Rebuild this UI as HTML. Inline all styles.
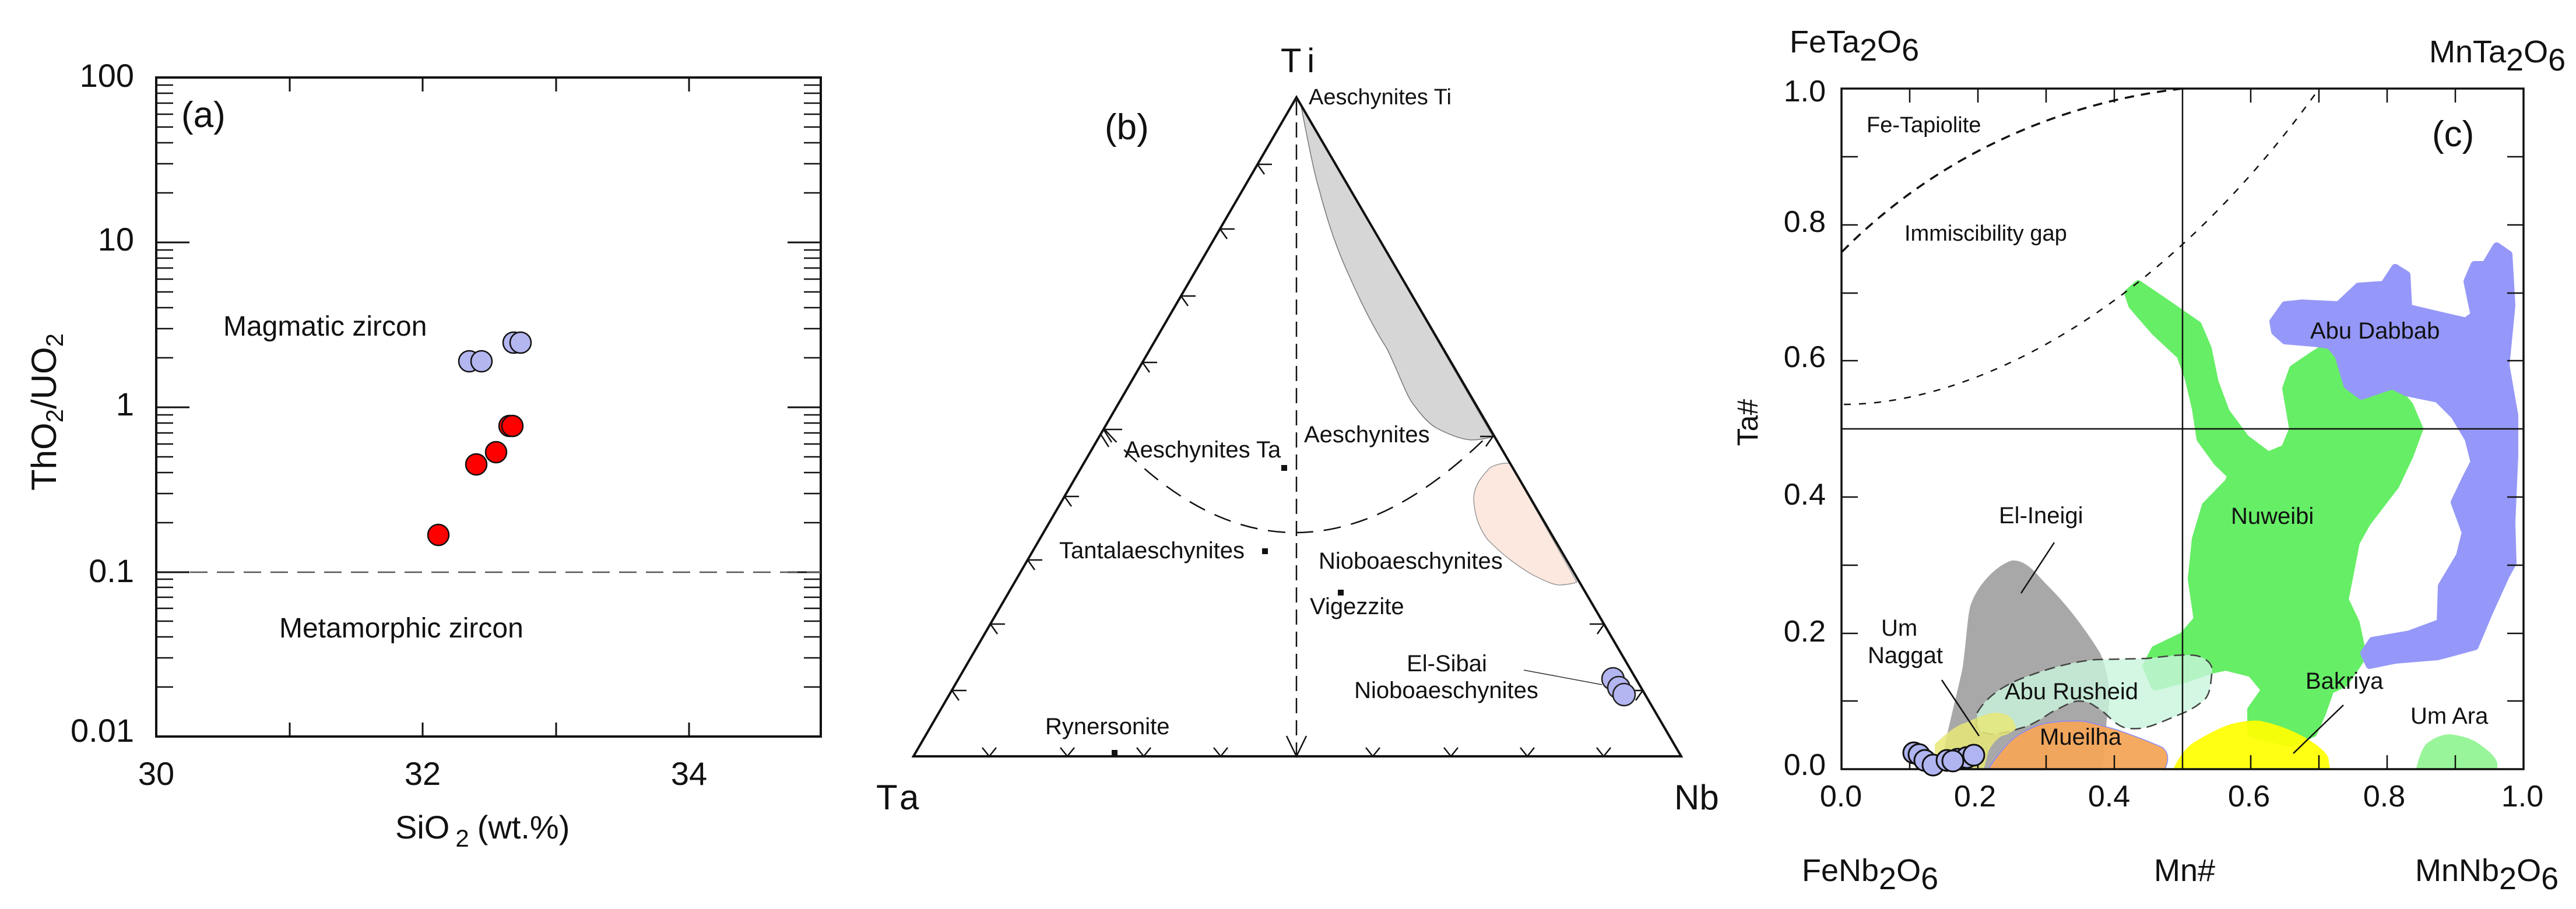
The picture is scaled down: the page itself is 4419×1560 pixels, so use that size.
<!DOCTYPE html>
<html><head><meta charset="utf-8"><style>
html,body{margin:0;padding:0;background:#fff;}
svg{display:block;}
text{font-family:"Liberation Sans",Arial,sans-serif;fill:#111;}
</style></head><body>
<svg width="4419" height="1560" viewBox="0 0 4419 1560" xmlns="http://www.w3.org/2000/svg">
<rect width="4419" height="1560" fill="#fff"/>

<!-- ===== Panel (a) ===== -->
<g stroke="#111" stroke-width="3" fill="none">
<rect x="268" y="133" width="1140" height="1131" stroke-width="4"/>
<path d="M268 416h57M268 699h57M268 982h57M1408 416h-57M1408 699h-57M1408 982h-57"/>
<path d="M497 133v24M725 133v24M954 133v24M1182 133v24M497 1264v-24M725 1264v-24M954 1264v-24M1182 1264v-24"/>
</g>
<g stroke="#111" stroke-width="2.5">
<path d="
M268 331h29M268 281h29M268 245h29M268 218h29M268 196h29M268 177h29M268 160h29M268 146h29
M268 614h29M268 564h29M268 528h29M268 501h29M268 479h29M268 460h29M268 443h29M268 429h29
M268 897h29M268 847h29M268 811h29M268 784h29M268 762h29M268 743h29M268 726h29M268 712h29
M268 1179h29M268 1129h29M268 1093h29M268 1066h29M268 1044h29M268 1025h29M268 1008h29M268 994h29
M1408 331h-29M1408 281h-29M1408 245h-29M1408 218h-29M1408 196h-29M1408 177h-29M1408 160h-29M1408 146h-29
M1408 614h-29M1408 564h-29M1408 528h-29M1408 501h-29M1408 479h-29M1408 460h-29M1408 443h-29M1408 429h-29
M1408 897h-29M1408 847h-29M1408 811h-29M1408 784h-29M1408 762h-29M1408 743h-29M1408 726h-29M1408 712h-29
M1408 1179h-29M1408 1129h-29M1408 1093h-29M1408 1066h-29M1408 1044h-29M1408 1025h-29M1408 1008h-29M1408 994h-29"/>
</g>
<line x1="326" y1="982" x2="1408" y2="982" stroke="#555" stroke-width="2.5" stroke-dasharray="30 16"/>
<g stroke="#111" stroke-width="2.5">
<circle cx="805" cy="620" r="18" fill="#b4b6f0"/>
<circle cx="826" cy="620" r="18" fill="#b4b6f0"/>
<circle cx="881" cy="588" r="18" fill="#b4b6f0"/>
<circle cx="893" cy="588" r="18" fill="#b4b6f0"/>
<circle cx="752" cy="918" r="18" fill="#f00"/>
<circle cx="817" cy="797" r="18" fill="#f00"/>
<circle cx="851" cy="776" r="18" fill="#f00"/>
<circle cx="874" cy="731" r="18" fill="#f00"/>
<circle cx="879" cy="731" r="18" fill="#f00"/>
</g>
<g font-size="56" text-anchor="end">
<text x="230" y="149">100</text>
<text x="230" y="430">10</text>
<text x="230" y="713">1</text>
<text x="230" y="999">0.1</text>
<text x="230" y="1273">0.01</text>
</g>
<g font-size="56" text-anchor="middle">
<text x="268" y="1347">30</text>
<text x="725" y="1347">32</text>
<text x="1182" y="1347">34</text>
</g>
<text x="311" y="218" font-size="62">(a)</text>
<text x="383" y="576" font-size="48">Magmatic zircon</text>
<text x="479" y="1094" font-size="48">Metamorphic zircon</text>
<text transform="translate(96,707) rotate(-90)" font-size="60" text-anchor="middle">ThO<tspan font-size="42" dy="12">2</tspan><tspan dy="-12">/UO</tspan><tspan font-size="42" dy="12">2</tspan></text>
<text x="678" y="1439" font-size="56">SiO<tspan font-size="42" dy="14" dx="10">2</tspan><tspan dy="-14" dx="14">(wt.%)</tspan></text>

<!-- ===== Panel (b) ===== -->
<path d="M2231 177 C2245 250 2255 300 2264 329 C2280 390 2295 430 2312 468 C2335 520 2355 560 2379 598 C2400 640 2412 680 2427 697 C2440 715 2452 728 2465 735 C2490 748 2510 754 2523 755 C2540 755 2552 752 2561 749 L2224 167 Z" fill="#d6d6d6" stroke="#777" stroke-width="1.5"/>
<path d="M2590 795 L2580 795 C2565 797 2555 802 2552 807 C2535 825 2528 840 2528 857 C2530 890 2540 910 2552 926 C2580 955 2605 972 2628 986 C2650 997 2665 1004 2676 1004 C2690 1003 2700 1001 2705 999 Z" fill="#fde8e0" stroke="#999" stroke-width="1.5"/>
<g stroke="#111" fill="none">
<path d="M2224 167 L1567 1298 L2884 1298 Z" stroke-width="4"/>
<line x1="2224" y1="172" x2="2224" y2="1296" stroke-width="2.5" stroke-dasharray="26 12"/>
<path d="M2207 1263 L2224 1298 L2241 1263" stroke-width="2.5"/>
<path d="M1895 737 Q2209 1085 2551 749" stroke-width="2.5" stroke-dasharray="30 18"/>
<path d="M2614 1150 L2748 1175" stroke-width="1.5" stroke="#333"/>
</g>
<g stroke="#111" stroke-width="2.5" fill="none">
<path d="M2157 282h25M2157 282l12 17"/>
<path d="M2093 393h25M2093 393l12 17"/>
<path d="M2026 508h25M2026 508l12 17"/>
<path d="M1960 622h25M1960 622l12 17"/>
<path d="M1893 737h32M1893 737l14 22M1888 745l14 22"/>
<path d="M1826 852h25M1826 852l12 17"/>
<path d="M1763 961h25M1763 961l12 17"/>
<path d="M1699 1071h25M1699 1071l12 17"/>
<path d="M1633 1185h25M1633 1185l12 17"/>
<path d="M1685 1283 L1697 1298 L1709 1283M1819 1283 L1831 1298 L1843 1283M1950 1283 L1962 1298 L1974 1283M2082 1283 L2094 1298 L2106 1283M2343 1283 L2355 1298 L2367 1283M2477 1283 L2489 1298 L2501 1283M2608 1283 L2620 1298 L2632 1283M2739 1283 L2751 1298 L2763 1283"/>
<path d="M2752 1071h-25M2752 1071l-12 17"/>
<path d="M2818 1185h-25M2818 1185l-12 17"/>
<path d="M2561 749h-22M2561 749l-12 17"/>
</g>
<g fill="#111">
<rect x="2198" y="798" width="10" height="10"/>
<rect x="2165" y="941" width="10" height="10"/>
<rect x="2295" y="1012" width="10" height="10"/>
<rect x="1907" y="1287" width="10" height="10"/>
</g>
<g stroke="#222" stroke-width="2.5" fill="#b4b6f2">
<circle cx="2767" cy="1165" r="19"/>
<circle cx="2777" cy="1180" r="19"/>
<circle cx="2786" cy="1192" r="19"/>
</g>
<text x="2197" y="124" font-size="58" letter-spacing="12">Ti</text>
<text x="2245" y="179" font-size="38">Aeschynites Ti</text>
<text x="1895" y="239" font-size="62">(b)</text>
<text x="1929" y="785" font-size="40">Aeschynites Ta</text>
<text x="2237" y="759" font-size="40">Aeschynites</text>
<text x="1817" y="958" font-size="40">Tantalaeschynites</text>
<text x="2262" y="976" font-size="40">Nioboaeschynites</text>
<text x="2247" y="1054" font-size="40">Vigezzite</text>
<text x="2482" y="1152" font-size="40" text-anchor="middle">El-Sibai</text>
<text x="2481" y="1198" font-size="40" text-anchor="middle">Nioboaeschynites</text>
<text x="1793" y="1260" font-size="40">Rynersonite</text>
<text x="1503" y="1389" font-size="60" letter-spacing="10">Ta</text>
<text x="2872" y="1389" font-size="60">Nb</text>

<!-- ===== Panel (c) ===== -->
<path d="M3331 1320 C3340 1260 3360 1190 3369 1145 C3376 1090 3377 1060 3382 1040 C3392 1010 3420 975 3451 964 C3475 962 3490 985 3510 1005 C3545 1040 3575 1080 3600 1120 C3618 1160 3620 1200 3612 1235 L3605 1320 Z" fill="#a8a8a8" stroke="#a8a8a8" stroke-width="4"/>
<path d="M3651 503 L3668 488 L3721 524 L3770 558 L3787 598 L3799 656 L3818 707 L3852 753 L3891 782 L3920 770 L3934 736 L3922 667 L3934 633 L3968 610 L3997 592 L4012 610 L4027 667 L4104 661 L4133 696 L4150 736 L4133 782 L4109 833 L4060 897 L4041 931 L4031 983 L4022 1029 L4041 1069 L4053 1126 L4022 1172 L3997 1184 L3983 1224 L3968 1258 L3930 1275 L3862 1258 L3862 1218 L3886 1184 L3862 1155 L3818 1144 L3794 1149 L3745 1166 L3697 1178 L3682 1143 L3697 1115 L3745 1092 L3770 1063 L3760 994 L3767 925 L3784 868 L3823 828 L3828 816 L3804 793 L3775 753 L3767 701 L3755 650 L3741 610 L3697 569 L3658 524 Z" fill="#66ee66" stroke="#66ee66" stroke-width="14" stroke-linejoin="round"/>
<path d="M3900 552 L3920 524 L3949 521 L4012 524 L4046 492 L4090 489 L4109 460 L4128 472 L4131 529 L4182 541 L4230 552 L4245 541 L4233 483 L4245 455 L4264 455 L4283 423 L4303 437 L4308 524 L4298 627 L4313 713 L4313 782 L4308 897 L4310 966 L4298 988 L4269 1052 L4245 1109 L4182 1126 L4109 1132 L4065 1141 L4056 1121 L4070 1100 L4133 1089 L4187 1069 L4189 1006 L4220 954 L4230 914 L4211 862 L4230 822 L4245 793 L4235 753 L4211 713 L4182 684 L4128 673 L4104 661 L4051 679 L4027 661 L4012 610 L3997 592 L3968 588 L3920 584 L3903 569 Z" fill="#9598f8" stroke="#9598f8" stroke-width="14" stroke-linejoin="round"/>
<path d="M3392 1223 C3410 1190 3450 1170 3480 1160 C3520 1145 3560 1135 3595 1132 L3683 1130 C3720 1126 3745 1122 3767 1125 C3790 1130 3798 1145 3794 1157 C3792 1180 3790 1195 3779 1203 C3765 1215 3750 1222 3737 1227 C3710 1238 3690 1248 3671 1250 C3650 1252 3640 1248 3633 1243 C3620 1235 3610 1220 3595 1213 C3585 1205 3575 1203 3564 1203 C3550 1205 3535 1215 3518 1223 C3500 1235 3485 1245 3465 1250 C3445 1256 3430 1260 3415 1260 C3400 1258 3390 1250 3390 1243 Z" fill="#c8f5dc" fill-opacity="0.8" stroke="#444" stroke-width="2.5" stroke-dasharray="18 10"/>
<path d="M3319 1320 L3319 1277 C3340 1258 3355 1245 3373 1240 C3395 1230 3410 1224 3422 1223 C3440 1224 3450 1228 3455 1240 L3459 1250 C3450 1258 3440 1262 3434 1263 C3420 1272 3413 1285 3411 1290 L3403 1320 Z" fill="#e8e878" fill-opacity="0.85"/>
<path d="M3411 1320 C3430 1290 3450 1268 3465 1260 C3485 1248 3500 1242 3518 1240 C3540 1237 3560 1237 3576 1238 C3600 1243 3615 1248 3633 1253 C3670 1266 3695 1276 3710 1283 C3720 1292 3721 1303 3714 1320 Z" fill="#f4a558" fill-opacity="0.95" stroke="#8888ff" stroke-width="1.5"/>
<path d="M3728 1320 C3740 1295 3752 1282 3762 1275 C3795 1255 3820 1243 3839 1240 C3855 1237 3868 1236 3877 1237 C3910 1244 3935 1255 3953 1265 C3975 1278 3990 1290 3994 1300 L3997 1320 Z" fill="#ffff00" fill-opacity="0.92"/>
<path d="M4145 1320 C4150 1295 4158 1280 4164 1275 C4180 1263 4195 1260 4203 1260 C4225 1263 4240 1268 4250 1275 C4270 1288 4282 1300 4284 1310 L4284 1320 Z" fill="#99f599"/>

<path d="M3160 432 C3300 290 3500 180 3744 152" fill="none" stroke="#111" stroke-width="3.5" stroke-dasharray="16 12"/>
<path d="M3163 694 C3380 694 3700 540 3977 154" fill="none" stroke="#111" stroke-width="2.5" stroke-dasharray="12 14"/>

<g stroke="#111" fill="none">
<rect x="3159" y="152" width="1170" height="1168" stroke-width="3.5"/>
<line x1="3744" y1="152" x2="3744" y2="1320" stroke-width="2.5"/>
<line x1="3159" y1="736" x2="4329" y2="736" stroke-width="2.5"/>
<path stroke-width="2.5" d="
M3159 269h28M3159 386h28M3159 503h28M3159 619h28M3159 853h28M3159 970h28M3159 1087h28M3159 1203h28
M4329 269h-28M4329 386h-28M4329 503h-28M4329 619h-28M4329 853h-28M4329 970h-28M4329 1087h-28M4329 1203h-28
M3276 152v24M3393 152v24M3510 152v24M3627 152v24M3861 152v24M3978 152v24M4095 152v24M4212 152v24
M3276 1320v-24M3393 1320v-24M3510 1320v-24M3627 1320v-24M3861 1320v-24M3978 1320v-24M4095 1320v-24M4212 1320v-24"/>
<path stroke-width="2.5" d="M3524 931 L3467 1018 M3331 1167 L3395 1263 M4020 1210 L3934 1293"/>
</g>
<g stroke="#111" stroke-width="3" fill="#b0b4f0">
<circle cx="3283" cy="1292" r="18"/>
<circle cx="3292" cy="1295" r="18"/>
<circle cx="3302" cy="1305" r="18"/>
<circle cx="3316" cy="1313" r="18"/>
<circle cx="3340" cy="1305" r="18"/>
<circle cx="3358" cy="1303" r="18"/>
<circle cx="3374" cy="1300" r="18"/>
<circle cx="3386" cy="1296" r="18"/>
<circle cx="3350" cy="1306" r="18"/>
</g>
<g font-size="52" text-anchor="end">
<text x="3132" y="174">1.0</text>
<text x="3132" y="398">0.8</text>
<text x="3132" y="630">0.6</text>
<text x="3132" y="866">0.4</text>
<text x="3132" y="1101">0.2</text>
<text x="3132" y="1330">0.0</text>
</g>
<g font-size="52" text-anchor="middle">
<text x="3158" y="1384">0.0</text>
<text x="3388" y="1384">0.2</text>
<text x="3618" y="1384">0.4</text>
<text x="3858" y="1384">0.6</text>
<text x="4090" y="1384">0.8</text>
<text x="4327" y="1384">1.0</text>
</g>
<g font-size="54">
<text x="3070" y="90">FeTa<tspan dy="14">2</tspan><tspan dy="-14">O</tspan><tspan dy="14">6</tspan></text>
<text x="4167" y="107">MnTa<tspan dy="14">2</tspan><tspan dy="-14">O</tspan><tspan dy="14">6</tspan></text>
<text x="3091" y="1512">FeNb<tspan dy="14">2</tspan><tspan dy="-14">O</tspan><tspan dy="14">6</tspan></text>
<text x="3695" y="1512">Mn#</text>
<text x="4143" y="1512">MnNb<tspan dy="14">2</tspan><tspan dy="-14">O</tspan><tspan dy="14">6</tspan></text>
</g>
<text transform="translate(3015,725) rotate(-90)" font-size="50" text-anchor="middle">Ta#</text>
<text x="4172" y="251" font-size="62">(c)</text>
<g font-size="38">
<text x="3202" y="227">Fe-Tapiolite</text>
<text x="3267" y="413">Immiscibility gap</text>
</g>
<g font-size="40">
<text x="3963" y="581">Abu Dabbab</text>
<text x="3827" y="899">Nuweibi</text>
<text x="3429" y="898">El-Ineigi</text>
<text x="3227" y="1091">Um</text>
<text x="3204" y="1138">Naggat</text>
<text x="3439" y="1200">Abu Rusheid</text>
<text x="3499" y="1278">Mueilha</text>
<text x="3955" y="1182">Bakriya</text>
<text x="4135" y="1242">Um Ara</text>
</g>
</svg>
</body></html>
